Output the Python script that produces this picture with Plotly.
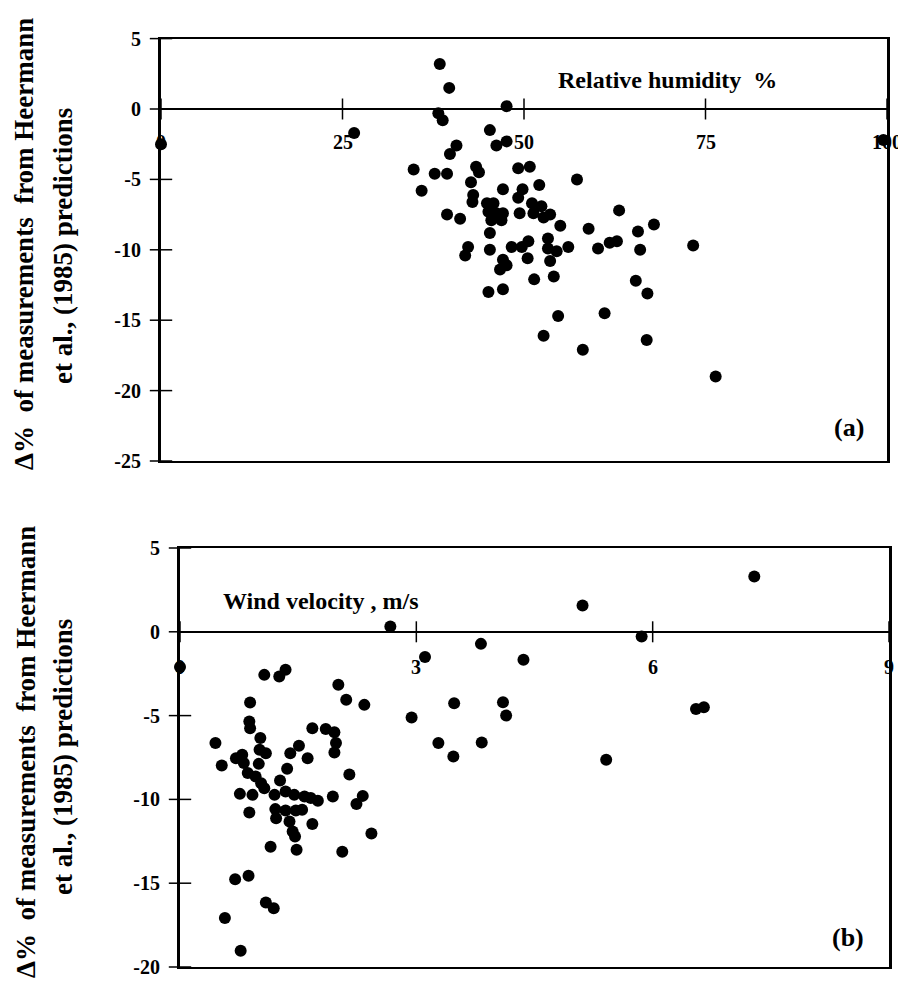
import plotly.graph_objects as go

# ---------------- data ----------------
# Panel (a): relative humidity (%) vs deviation (%)
rh_a = [0, 26.6, 34.8, 35.9, 37.7, 38.2, 38.4, 38.8, 39.4, 39.4, 39.7, 39.8,
        40.7, 41.2, 41.9, 42.3, 42.7, 42.9, 43.0, 43.4, 43.8,
        44.9, 45.1, 45.1, 45.3, 45.3, 45.3, 45.5, 45.8,
        46.2, 46.2, 46.7, 46.9, 47.1, 47.1, 47.1, 47.1, 47.6, 47.6, 47.6,
        48.3, 49.2, 49.2, 49.4, 49.7, 49.8,
        50.5, 50.6, 50.8, 51.1, 51.3, 51.4,
        52.1, 52.4, 52.7, 52.7, 53.3, 53.3, 53.6, 53.6,
        54.1, 54.5, 54.7, 55.0, 56.1, 57.3,
        58.1, 58.9, 60.2, 61.1, 61.8, 62.8, 63.1,
        65.4, 65.7, 66.0, 66.9, 67.0, 67.9, 73.3, 76.4, 99.5]
dev_a = [-2.5, -1.7, -4.3, -5.8, -4.6, -0.3, 3.2, -0.8, -4.6, -7.5, 1.5, -3.2,
         -2.6, -7.8, -10.4, -9.8, -5.2, -6.6, -6.1, -4.1, -4.5,
         -6.7, -7.3, -13.0, -1.5, -8.8, -10.0, -7.9, -6.7,
         -2.6, -7.4, -11.4, -7.9, -5.7, -7.4, -10.7, -12.8, 0.2, -2.3, -11.1,
         -9.8, -4.2, -6.3, -7.4, -9.8, -5.7,
         -10.6, -9.4, -4.1, -6.7, -7.4, -12.1,
         -5.4, -6.9, -7.7, -16.1, -9.2, -9.9, -7.5, -10.8,
         -11.9, -10.1, -14.7, -8.3, -9.8, -5.0,
         -17.1, -8.5, -9.9, -14.5, -9.5, -9.4, -7.2,
         -12.2, -8.7, -10.0, -16.4, -13.1, -8.2, -9.7, -19.0, -2.2]

# Panel (b): wind velocity (m/s) vs deviation (%)
wind_b = [0.0, 1.07, 1.26, 1.34, 0.89, 2.01, 2.11, 2.34,
          0.88, 0.89, 0.45, 1.02, 1.01, 1.09, 1.68,
          1.85, 1.96, 1.98, 1.96, 1.51, 1.40, 1.62,
          0.71, 0.79, 0.81, 0.53, 1.00, 0.86, 1.36,
          0.96, 1.03, 1.07, 1.27, 2.15, 0.76, 0.92,
          1.20, 1.34, 1.45, 1.58, 1.66, 1.75, 1.94,
          2.32, 2.24, 1.21, 1.34, 1.47, 1.55, 1.22,
          0.88, 1.39, 1.43, 1.46, 1.68, 2.43, 1.15,
          1.48, 2.06, 0.70, 0.87, 1.09, 1.19, 0.57, 0.77,
          2.67, 7.29, 5.11, 5.86, 3.82, 3.11, 4.36, 3.48, 4.10, 4.14,
          2.94, 6.55, 6.65, 3.28, 3.83, 3.47, 5.41]
dev_b = [-2.1, -2.57, -2.67, -2.27, -4.22, -3.16, -4.06, -4.36,
         -5.35, -5.75, -6.64, -6.34, -7.04, -7.24, -5.75,
         -5.8, -6.0, -6.64, -7.2, -6.8, -7.24, -7.54,
         -7.54, -7.34, -7.83, -7.98, -7.88, -8.43, -8.17,
         -8.63, -9.03, -9.33, -8.87, -8.51, -9.67, -9.73,
         -9.73, -9.53, -9.73, -9.83, -9.92, -10.08, -9.83,
         -9.79, -10.28, -10.58, -10.66, -10.66, -10.62, -11.12,
         -10.78, -11.32, -11.91, -12.21, -11.47, -12.03, -12.83,
         -13.0, -13.13, -14.76, -14.56, -16.15, -16.49, -17.08, -19.03,
         0.32, 3.3, 1.57, -0.28, -0.72, -1.51, -1.67, -4.26, -4.2, -5.0,
         -5.11, -4.6, -4.5, -6.64, -6.6, -7.44, -7.64]

x_ticks_a = [0, 25, 50, 75, 100]
x_ticks_b = [0, 3, 6, 9]
y_ticks_a = [5, 0, -5, -10, -15, -20, -25]
y_ticks_b = [5, 0, -5, -10, -15, -20]
x_range_a = [0, 100]
y_range_a = [-25, 5]
x_range_b = [0, 9]
y_range_b = [-20, 5]

title_line1 = "Δ%\u00a0 of measurements\u00a0 from Heermann"
title_line2 = "et al., (1985) predictions"

# ---------------- layout geometry (pixels of the 906x986 page) ----------------
PAGE_W, PAGE_H = 906, 986
OFF = 8  # default body margin of the html page
W, H = PAGE_W - OFF, PAGE_H - OFF
FONT = "Liberation Serif"


def px_x(p):
    return (p - OFF) / W


def px_y(p):
    return 1 - (p - OFF) / H


dom_xa = [px_x(161), px_x(887)]
dom_ya = [px_y(461), px_y(38.6)]
dom_xb = [px_x(180), px_x(889)]
dom_yb = [px_y(967), px_y(548)]


def lab(v):
    return str(v).replace("\u2212", "-")


fig = go.Figure()

# crossing tick marks on the y axes (at x = 0) and on the zero lines
tick_mark = dict(color="black", line=dict(color="black", width=1.5))
fig.add_trace(go.Scatter(x=[0] * len(y_ticks_a), y=y_ticks_a, mode="markers",
                         marker=dict(symbol="line-ew", size=16, **tick_mark),
                         cliponaxis=False, hoverinfo="skip", showlegend=False,
                         xaxis="x", yaxis="y"))
fig.add_trace(go.Scatter(x=[0] * len(y_ticks_b), y=y_ticks_b, mode="markers",
                         marker=dict(symbol="line-ew", size=16, **tick_mark),
                         cliponaxis=False, hoverinfo="skip", showlegend=False,
                         xaxis="x2", yaxis="y2"))
fig.add_trace(go.Scatter(x=x_ticks_a, y=[0] * len(x_ticks_a), mode="markers",
                         marker=dict(symbol="line-ns", size=15, **tick_mark),
                         cliponaxis=False, hoverinfo="skip", showlegend=False,
                         xaxis="x", yaxis="y"))
fig.add_trace(go.Scatter(x=x_ticks_b, y=[0] * len(x_ticks_b), mode="markers",
                         marker=dict(symbol="line-ns", size=15, **tick_mark),
                         cliponaxis=False, hoverinfo="skip", showlegend=False,
                         xaxis="x2", yaxis="y2"))

marker = dict(color="black", size=12, line=dict(width=0))
fig.add_trace(go.Scatter(x=rh_a, y=dev_a, mode="markers", marker=marker,
                         cliponaxis=False, xaxis="x", yaxis="y", showlegend=False))
fig.add_trace(go.Scatter(x=wind_b, y=dev_b, mode="markers", marker=marker,
                         cliponaxis=False, xaxis="x2", yaxis="y2", showlegend=False))

tickfont = dict(family=FONT, size=20, color="black", weight="bold")

box_x = dict(showline=True, mirror=True, linecolor="black", linewidth=2,
             ticks="", showticklabels=False, showgrid=False, zeroline=False,
             automargin=False)
box_y = dict(showline=True, mirror=True, linecolor="black", linewidth=3,
             ticks="", tickfont=tickfont, showgrid=False, zeroline=True,
             zerolinecolor="black", zerolinewidth=1.5, ticklabelstandoff=13,
             automargin=False, tickmode="array")

fig.update_layout(
    template="none",
    width=W, height=H, autosize=False,
    margin=dict(l=0, r=0, t=0, b=0, pad=0),
    paper_bgcolor="white", plot_bgcolor="white",
    xaxis=dict(domain=dom_xa, range=x_range_a, anchor="y", **box_x),
    yaxis=dict(domain=dom_ya, range=y_range_a, anchor="x", tickvals=y_ticks_a,
               ticktext=[lab(v) for v in y_ticks_a], **box_y),
    xaxis2=dict(domain=dom_xb, range=x_range_b, anchor="y2", **box_x),
    yaxis2=dict(domain=dom_yb, range=y_range_b, anchor="x2", tickvals=y_ticks_b,
                ticktext=[lab(v) for v in y_ticks_b], **box_y),
)

# x tick labels placed under the zero line
for v in x_ticks_a:
    fig.add_annotation(text=lab(v), x=v, y=0, xref="x", yref="y", yshift=-33,
                       showarrow=False, xanchor="center", yanchor="middle", font=tickfont)
for v in x_ticks_b:
    fig.add_annotation(text=lab(v), x=v, y=0, xref="x2", yref="y2", yshift=-35,
                       showarrow=False, xanchor="center", yanchor="middle", font=tickfont)

ann_font = dict(family=FONT, size=24, color="black", weight="bold")
title_font = dict(family=FONT, size=27, color="black", weight="bold")


def ann(text, xp, yp, font, angle=0):
    fig.add_annotation(text=text, x=px_x(xp), y=px_y(yp), xref="paper", yref="paper",
                       showarrow=False, xanchor="center", yanchor="middle",
                       font=font, textangle=angle)


ann("Relative humidity\u00a0 %", 667, 80, ann_font)
ann("Wind velocity , m/s", 321, 601, ann_font)
ann("(a)", 849, 427, dict(ann_font, size=26))
ann("(b)", 848, 937, dict(ann_font, size=26))
ann(title_line1, 24, 244, title_font, -90)
ann(title_line2, 63, 246, title_font, -90)
ann(title_line1, 26, 752, title_font, -90)
ann(title_line2, 63, 757, title_font, -90)

fig.write_html("out.html")
